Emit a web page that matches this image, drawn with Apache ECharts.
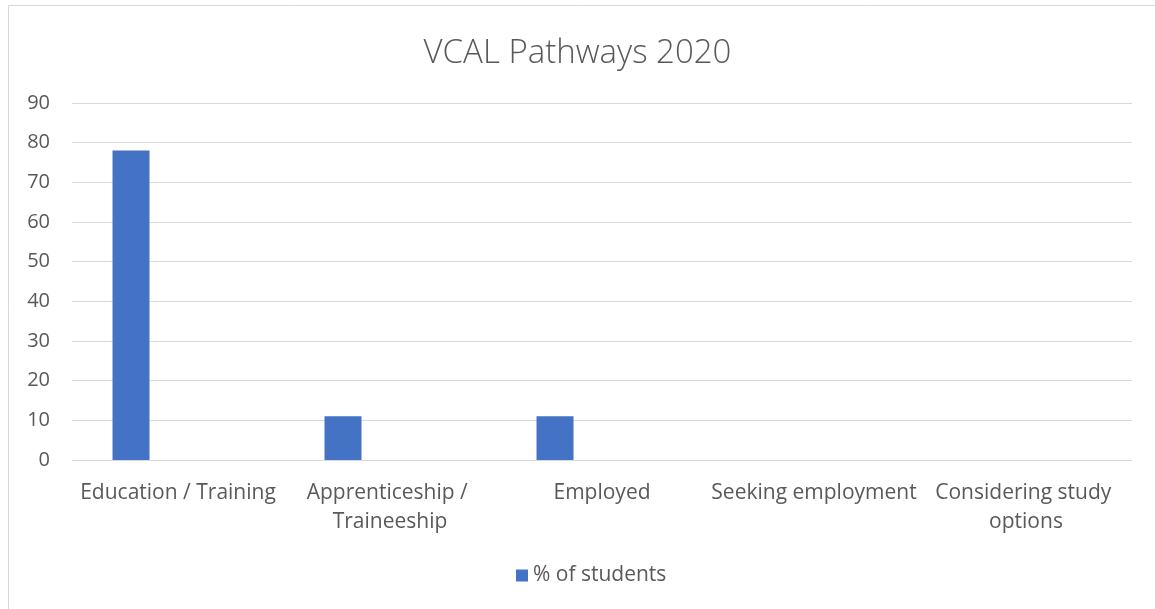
<!DOCTYPE html>
<html>
<head>
<meta charset="utf-8">
<script src="https://cdn.jsdelivr.net/npm/echarts@6/dist/echarts.min.js"></script>
<style>
  html, body { margin: 0; padding: 0; background: #fff; }
  #chart { width: 1155px; height: 609px; }
</style>
</head>
<body>
<div id="chart"></div>
<script>
// chart data
const categories = ['Education / Training', 'Apprenticeship / Traineeship', 'Employed', 'Seeking employment', 'Considering study options']
const students = [78, 11, 11, null, null]
const yTicks = { min: 0, max: 90, interval: 10 }

const textColor = '#595959'
const font = '"Open Sans", "Noto Sans", sans-serif'

const chart = echarts.init(document.getElementById('chart'))

const option = {
  backgroundColor: '#fff',
  graphic: [
    {
      type: 'rect',
      shape: { x: 8.5, y: 5.5, width: 1160, height: 620 },
      style: { fill: 'none', stroke: '#d9d9d9', lineWidth: 1 },
      silent: true
    }
  ],
  title: {
    text: 'VCAL Pathways 2020',
    left: 'center',
    top: 32,
    textStyle: {
      fontFamily: font,
      fontSize: 33,
      fontWeight: 300,
      color: textColor
    }
  },
  legend: {
    data: ['% of students'],
    bottom: 18,
    left: 511,
    itemWidth: 12,
    itemHeight: 12,
    itemGap: 8,
    icon: 'rect',
    textStyle: { fontFamily: font, fontSize: 21, color: textColor }
  },
  grid: {
    left: 72,
    right: 23,
    top: 103,
    bottom: 149,
    containLabel: false
  },
  xAxis: {
    type: 'category',
    data: categories,
    axisLine: { show: true, lineStyle: { color: '#d9d9d9' } },
    axisTick: { show: false },
    axisLabel: {
      color: textColor,
      fontFamily: font,
      fontSize: 21,
      margin: 19,
      lineHeight: 29,
      width: 212,
      overflow: 'break',
      interval: 0
    }
  },
  yAxis: {
    type: 'value',
    min: yTicks.min,
    max: yTicks.max,
    interval: yTicks.interval,
    axisLine: { show: false },
    axisTick: { show: false },
    splitLine: { lineStyle: { color: '#d9d9d9', width: 1 } },
    axisLabel: {
      color: textColor,
      fontFamily: font,
      fontSize: 20,
      margin: 22
    }
  },
  series: [
    {
      name: '% of students',
      type: 'bar',
      data: students,
      barWidth: 37,
      barGap: '27%',
      itemStyle: { color: '#4472c4' }
    },
    // empty series that keep the bar offset like the original
    { name: 's2', type: 'bar', data: [], barWidth: 37 },
    { name: 's3', type: 'bar', data: [], barWidth: 37 }
  ]
}

chart.setOption(option)
</script>
</body>
</html>
